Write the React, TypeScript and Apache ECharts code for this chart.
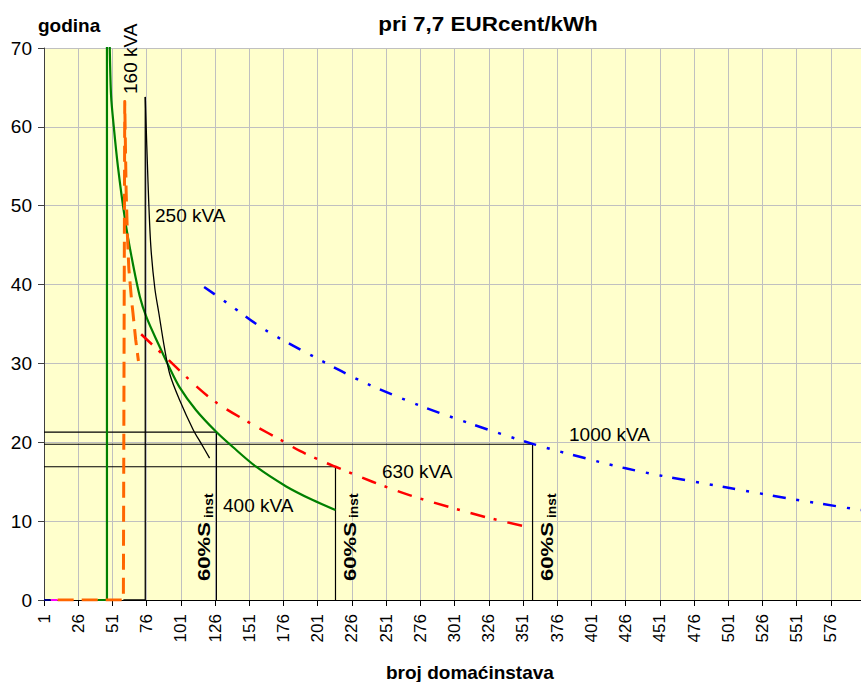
import React, { useEffect, useRef } from 'react';
import * as echarts from 'echarts';

const FONT = '"Liberation Sans", Arial, sans-serif';

// categories 1..598 (broj domaćinstava)
const categories: string[] = Array.from({ length: 598 }, (_, i) => String(i + 1));

// zero segments at the start
const navyX = [1, 6];
const navyY = [0, 0];
const magentaX = [6, 11];
const magentaY = [0, 0];

// 160 kVA (orange dashed)
const kva160X = [11, 59, 60, 61, 62, 63, 65, 66, 68, 70];
const kva160Y = [0, 0, 63.2, 52, 46, 42, 38, 36.4, 33, 30.3];

// 250 kVA (black thin)
const kva250RiseX = [59, 75, 75];
const kva250RiseY = [0, 0, 63.8];
const kva250X = [75, 77, 79, 82, 85, 89, 93, 100, 110, 116, 122];
const kva250Y = [63.8, 53, 45, 39.5, 36.3, 32, 28.6, 25.4, 21.6, 19.8, 18.0];

// 400 kVA (green)
const kva400RiseX = [40, 47, 47, 48];
const kva400RiseY = [0, 0, 110, 80];
const kva400X = [48, 49, 50, 52, 55, 60, 65, 71, 76, 85, 92, 100, 112, 127, 139, 156, 178, 197, 214];
const kva400Y = [80, 70.5, 64, 60, 55, 48.5, 43.5, 38.5, 35.8, 32.3, 29.7, 27.0, 24.1, 21.3, 19.4, 16.9, 14.4, 12.7, 11.4];

// 630 kVA (red dash-dot)
const kva630X = [72, 91, 113, 128, 154, 176, 188, 207, 214, 241, 268, 297, 324, 353];
const kva630Y = [33.7, 30.6, 27.0, 24.9, 22.2, 20.1, 18.9, 17.4, 16.9, 15.0, 13.3, 11.8, 10.5, 9.3];

// 1000 kVA (blue dash-dot-dot)
const kva1000X = [118, 137, 163, 201, 236, 275, 312, 358, 407, 426, 451, 499, 548, 598];
const kva1000Y = [39.7, 37.4, 34.2, 30.6, 27.5, 24.7, 22.4, 19.8, 17.5, 16.7, 15.8, 14.3, 12.8, 11.4];

// 60% S_inst reference lines
const ref400X = [1, 127, 127];
const ref400Y = [21.3, 21.3, 0];
const ref630X = [1, 214, 214];
const ref630Y = [16.9, 16.9, 0];
const ref1000X = [1, 358, 358];
const ref1000Y = [19.75, 19.75, 0];

const pairs = (xs: number[], ys: number[]) => xs.map((x, i) => [x - 1, ys[i]]);

const line = (
  xs: number[],
  ys: number[],
  color: string,
  width: number,
  type: any,
  smooth: number | boolean,
  z: number
) => ({
  type: 'line',
  data: pairs(xs, ys),
  showSymbol: false,
  symbol: 'none',
  smooth,
  silent: true,
  z,
  lineStyle: { color, width, type, cap: 'butt', join: 'round' },
});

const label = (
  text: string,
  x: number,
  y: number,
  size: number,
  bold: boolean,
  rotation = 0,
  align = 'left',
  stretch = 1
) => ({
  type: 'text',
  x,
  y,
  rotation,
  scaleX: stretch,
  silent: true,
  z: 100,
  style: {
    text,
    fontSize: size,
    fontWeight: bold ? 'bold' : 'normal',
    fontFamily: FONT,
    fill: '#000',
    align,
    verticalAlign: 'middle',
  },
});

export default function App() {
  const ref = useRef<HTMLDivElement>(null);
  useEffect(() => {
    if (!ref.current) return;
    const chart = echarts.init(ref.current, undefined, { renderer: 'svg' });
    const R = Math.PI / 2;
    const option: any = {
      animation: false,
      backgroundColor: '#ffffff',
      grid: {
        left: 44,
        right: 0,
        top: 48,
        bottom: 82,
        show: true,
        backgroundColor: '#FFFFCC',
        borderWidth: 0,
      },
      xAxis: {
        type: 'category',
        data: categories,
        boundaryGap: false,
        axisLine: { lineStyle: { color: '#000', width: 1 } },
        axisTick: { interval: 24, length: 6, lineStyle: { color: '#000' } },
        axisLabel: { interval: 24, rotate: 90, margin: 14, fontSize: 17, color: '#000', fontFamily: FONT },
        splitLine: { show: true, interval: 24, lineStyle: { color: '#C0C0C0', width: 1 } },
      },
      yAxis: {
        type: 'value',
        min: 0,
        max: 70,
        interval: 10,
        axisLine: { show: true, lineStyle: { color: '#404040' } },
        axisTick: { show: true, length: 6, lineStyle: { color: '#404040' } },
        axisLabel: { fontSize: 19, color: '#000', margin: 12, fontFamily: FONT },
        splitLine: { show: true, lineStyle: { color: '#C0C0C0', width: 1 } },
      },
      series: [
        line(ref400X, ref400Y, '#000', 1.2, 'solid', false, 2),
        line(ref630X, ref630Y, '#000', 1.2, 'solid', false, 2),
        line(ref1000X, ref1000Y, '#000', 1.2, 'solid', false, 2),
        line(navyX, navyY, '#000080', 2, 'solid', false, 3),
        line(magentaX, magentaY, '#FF00FF', 2, 'solid', false, 3),
        line(kva400RiseX, kva400RiseY, '#008000', 2.2, 'solid', false, 3),
        line(kva400X, kva400Y, '#008000', 2.2, 'solid', 0.3, 3),
        line(kva160X, kva160Y, '#FF6600', 3, [16, 8], false, 4),
        line(kva250RiseX, kva250RiseY, '#000', 1.3, 'solid', false, 4),
        line(kva250X, kva250Y, '#000', 1.3, 'solid', 0.3, 4),
        line(kva630X, kva630Y, '#FF0000', 2.5, [15, 9, 3, 11], 0.3, 5),
        line(kva1000X, kva1000Y, '#0000FF', 2.5, [13, 11, 3, 11, 3, 10], 0.3, 5),
      ],
      graphic: [
        label('pri 7,7 EURcent/kWh', 488, 24, 21, true, 0, 'center', 1.07),
        label('godina', 38, 25, 19, true),
        label('broj domaćinstava', 386, 672, 19, true),
        label('160 kVA', 130, 94, 19, false, R),
        label('250 kVA', 155, 215, 19, false),
        label('400 kVA', 223, 505, 19, false),
        label('630 kVA', 382, 471, 19, false),
        label('1000 kVA', 569, 434, 19, false),
        label('60%S', 204, 581, 17, true, R, 'left', 1.3),
        label('inst', 208.5, 518, 12, true, R, 'left', 1.15),
        label('60%S', 349.5, 581, 17, true, R, 'left', 1.3),
        label('inst', 354, 518, 12, true, R, 'left', 1.15),
        label('60%S', 547, 581, 17, true, R, 'left', 1.3),
        label('inst', 551.5, 518, 12, true, R, 'left', 1.15),
      ],
    };
    chart.setOption(option);
    return () => chart.dispose();
  }, []);
  return (
    <div
      ref={ref}
      style={{ position: 'absolute', left: 0, top: 0, width: 861, height: 682 }}
    />
  );
}
